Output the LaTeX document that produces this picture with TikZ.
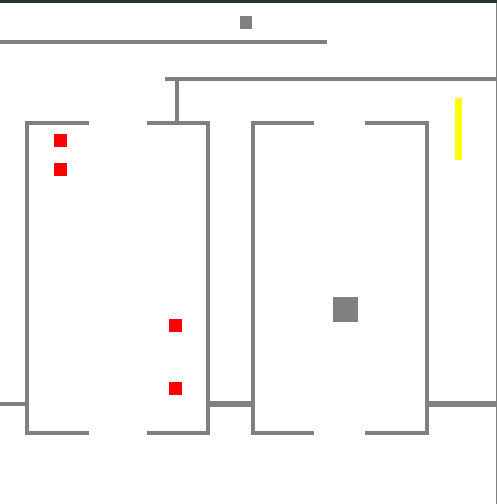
\documentclass[tikz,border=0pt]{standalone}
\usepackage{tikz}
\definecolor{topbar}{HTML}{263238}
\definecolor{wallgray}{HTML}{808080}
\definecolor{lampyellow}{RGB}{255,255,0}
\definecolor{crate}{RGB}{255,0,0}
\tikzset{
  wall/.style={draw=wallgray,line width=4pt},
  thickwall/.style={draw=wallgray,line width=5.6pt},
  thinwall/.style={draw=wallgray,line width=4pt}}

\begin{document}
\begin{tikzpicture}[x=1pt,y=-1pt]
\useasboundingbox (0,0) rectangle (497,504);
\fill [white] (0,0) rectangle (497,504);
\fill [topbar] (0,0) rectangle (497,3.2);
\fill [wallgray] (496,3.2) rectangle (497,504);
\fill [wallgray] (240,16) rectangle (252,29);
\draw [thinwall] (0,41.5) -- (327,41.5);
\draw [thinwall] (165,79) -- (496,79);
\draw [wall] (177.4,81) -- (177.4,123);
\draw [wall] (88.7,123) -- (27,123) -- (27,432.7) -- (88.7,432.7);
\draw [wall] (147,123) -- (208.4,123) -- (208.4,432.7) -- (147,432.7);
\draw [wall] (313.5,123) -- (252.6,123) -- (252.6,432.7) -- (313.5,432.7);
\draw [wall] (365,123) -- (427.3,123) -- (427.3,432.7) -- (365,432.7);
\draw [thinwall] (0,404) -- (25,404);
\draw [thickwall] (210.4,404) -- (250.8,404);
\draw [thickwall] (429.1,404) -- (496,404);
\fill [wallgray] (333,297) rectangle (358,322);
\fill [lampyellow] (455,97.7) rectangle (462,160);
\fill [crate] (54,134.3) rectangle (67,147);
\fill [crate] (54,163) rectangle (67,176);
\fill [crate] (169,319.2) rectangle (182,332);
\fill [crate] (169,381.8) rectangle (182,395);
\end{tikzpicture}
\end{document}
